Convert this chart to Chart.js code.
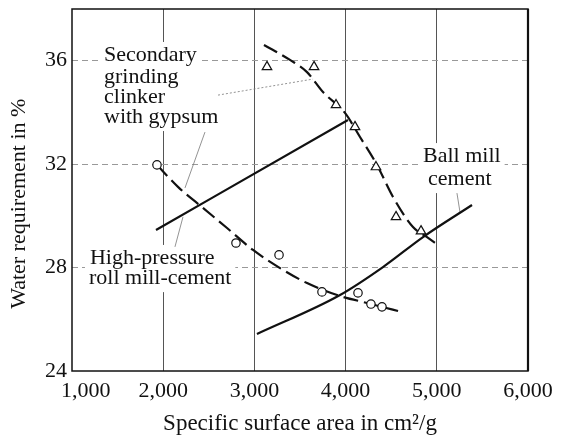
<!DOCTYPE html>
<html>
<head>
<meta charset="utf-8">
<script src="https://cdn.jsdelivr.net/npm/chart.js@4.4.1/dist/chart.umd.min.js"></script>
<style>
  html, body { margin: 0; padding: 0; background: #fff; }
  #wrap { width: 567px; height: 438px; }
</style>
</head>
<body>
<div id="wrap"><canvas id="chart" width="567" height="438"></canvas></div>
<script>
// measured points
var triangleX = [3138, 3654, 3895, 4103, 4333, 4553, 4827];
var triangleY = [35.76, 35.76, 34.29, 33.44, 31.89, 29.96, 29.41];
var circleX = [1932, 2798, 3270, 3741, 4136, 4278, 4399];
var circleY = [31.97, 28.95, 28.49, 27.06, 27.02, 26.59, 26.48];

// hand drawn curves of the figure
var secondaryCurveX = [3105, 3390, 3577, 3752, 3993, 4158, 4344, 4520, 4739, 4893, 5013];
var secondaryCurveY = [36.61, 36.03, 35.56, 34.79, 33.98, 33.05, 31.97, 30.73, 29.57, 29.18, 28.87];
var rollCurveX = [1932, 2162, 2425, 2700, 2985, 3281, 3577, 3939, 4235, 4575];
var rollCurveY = [31.97, 31.12, 30.34, 29.53, 28.68, 27.98, 27.40, 26.90, 26.63, 26.32];
var ballCurveX = [3028, 3939, 4410, 4849, 5386];
var ballCurveY = [25.43, 26.94, 28.02, 29.18, 30.42];
var straightX = [1921, 4026];
var straightY = [29.45, 33.71];

// leader lines from the labels
var leaderSecondaryX = [2601, 3643];
var leaderSecondaryY = [34.67, 35.29];
var leaderGypsumX = [2458, 2239];
var leaderGypsumY = [33.24, 31.08];
var leaderRollX = [2129, 2217];
var leaderRollY = [28.80, 29.96];
var leaderBallX = [5221, 5254];
var leaderBallY = [30.88, 30.15];

// axes
var xTicks = [1000, 2000, 3000, 4000, 5000, 6000];
var yTicks = [24, 28, 32, 36];

// label lines (left edge, baseline in data units)
var labelText = ['Secondary', 'grinding', 'clinker', 'with gypsum', 'High-pressure', 'roll mill-cement', 'Ball mill', 'cement'];
var labelAtX = [1351, 1351, 1351, 1351, 1197, 1186, 4849, 4904];
var labelAtY = [35.99, 35.14, 34.36, 33.59, 28.14, 27.36, 32.08, 31.19];

var serif = '"Liberation Serif", "Times New Roman", serif';
var ink = '#111';

function pts(xs, ys) {
    return xs.map(function (x, i) { return { x: x, y: ys[i] }; });
}

function curve(xs, ys, dash, width) {
    return {
        data: pts(xs, ys),
        showLine: true,
        borderColor: ink,
        borderWidth: width,
        borderDash: dash,
        pointRadius: 0,
        cubicInterpolationMode: 'monotone',
        order: 2
    };
}

function leader(xs, ys, dash) {
    return {
        data: pts(xs, ys),
        showLine: true,
        borderColor: '#777',
        borderWidth: 0.8,
        borderDash: dash,
        pointRadius: 0,
        order: 3
    };
}

var labelsPlugin = {
    id: 'labels',
    beforeDatasetsDraw: function (chart) {
        var ctx = chart.ctx;
        var xs = chart.scales.x, ys = chart.scales.y;
        var a = chart.chartArea;
        ctx.save();
        ctx.font = '22px ' + serif;
        ctx.textAlign = 'left';
        ctx.textBaseline = 'alphabetic';
        ctx.fillStyle = '#fff';
        labelText.forEach(function (t, i) {
            var px = xs.getPixelForValue(labelAtX[i]);
            var py = ys.getPixelForValue(labelAtY[i]);
            var w = ctx.measureText(t).width;
            ctx.fillRect(px - 4, py - 19, w + 8, 27);
        });
        ctx.fillStyle = ink;
        labelText.forEach(function (t, i) {
            ctx.fillText(t, xs.getPixelForValue(labelAtX[i]), ys.getPixelForValue(labelAtY[i]));
        });
        ctx.strokeStyle = ink;
        ctx.lineWidth = 1.5;
        ctx.strokeRect(a.left, a.top, a.right - a.left, a.bottom - a.top);
        ctx.lineWidth = 2.2;
        ctx.beginPath();
        ctx.moveTo(a.right, a.top);
        ctx.lineTo(a.right, a.bottom);
        ctx.stroke();
        ctx.restore();
    }
};

var ctx = document.getElementById('chart');
new Chart(ctx, {
    type: 'scatter',
    data: {
        datasets: [
            {
                data: pts(triangleX, triangleY),
                pointStyle: 'triangle',
                pointRadius: 5.5,
                borderWidth: 1.2,
                borderColor: ink,
                backgroundColor: '#fff',
                order: 0
            },
            {
                data: pts(circleX, circleY),
                pointStyle: 'circle',
                pointRadius: 4.2,
                borderWidth: 1.2,
                borderColor: ink,
                backgroundColor: '#fff',
                order: 0
            },
            curve(secondaryCurveX, secondaryCurveY, [15, 6], 2.2),
            curve(rollCurveX, rollCurveY, [15, 6], 2.2),
            curve(ballCurveX, ballCurveY, [], 2.2),
            curve(straightX, straightY, [], 2.2),
            leader(leaderSecondaryX, leaderSecondaryY, [2, 2]),
            leader(leaderGypsumX, leaderGypsumY, []),
            leader(leaderRollX, leaderRollY, []),
            leader(leaderBallX, leaderBallY, [])
        ]
    },
    options: {
        responsive: false,
        animation: false,
        devicePixelRatio: 1,
        layout: { padding: { left: 0, right: 39, top: 9, bottom: 0 } },
        plugins: {
            legend: { display: false },
            tooltip: { enabled: false }
        },
        scales: {
            x: {
                type: 'linear',
                min: 1000,
                max: 6000,
                afterBuildTicks: function (s) { s.ticks = xTicks.map(function (v) { return { value: v }; }); },
                afterFit: function (s) { s.height = 67; s.paddingLeft = 0; s.paddingRight = 0; },
                ticks: {
                    color: ink,
                    font: { family: serif, size: 22 },
                    padding: 7,
                    maxRotation: 0,
                    autoSkip: false,
                    callback: function (v) {
                        var s = v.toLocaleString('en-US');
                        return v === 1000 ? '     ' + s : s;
                    }
                },
                grid: {
                    drawTicks: false,
                    lineWidth: 1,
                    color: function (c) {
                        var v = c.tick && c.tick.value;
                        return (v === 1000 || v === 6000) ? 'rgba(0,0,0,0)' : '#555';
                    }
                },
                border: { display: false },
                title: {
                    display: true,
                    text: 'Specific surface area in cm²/g',
                    color: ink,
                    font: { family: serif, size: 23 },
                    padding: { top: 0, bottom: 0 }
                }
            },
            y: {
                type: 'linear',
                min: 24,
                max: 38,
                afterBuildTicks: function (s) { s.ticks = yTicks.map(function (v) { return { value: v }; }); },
                afterFit: function (s) { s.width = 72; s.paddingTop = 0; s.paddingBottom = 0; },
                ticks: {
                    color: ink,
                    font: { family: serif, size: 22 },
                    padding: 5
                },
                grid: {
                    drawTicks: false,
                    lineWidth: 1,
                    color: function (c) {
                        var v = c.tick && c.tick.value;
                        return v === 24 ? 'rgba(0,0,0,0)' : '#999';
                    }
                },
                border: { display: false, dash: [6, 4] },
                title: {
                    display: true,
                    text: 'Water requirement in %     ',
                    color: ink,
                    font: { family: serif, size: 22 },
                    padding: { top: 6, bottom: 0 }
                }
            }
        }
    },
    plugins: [labelsPlugin]
});
</script>
</body>
</html>
